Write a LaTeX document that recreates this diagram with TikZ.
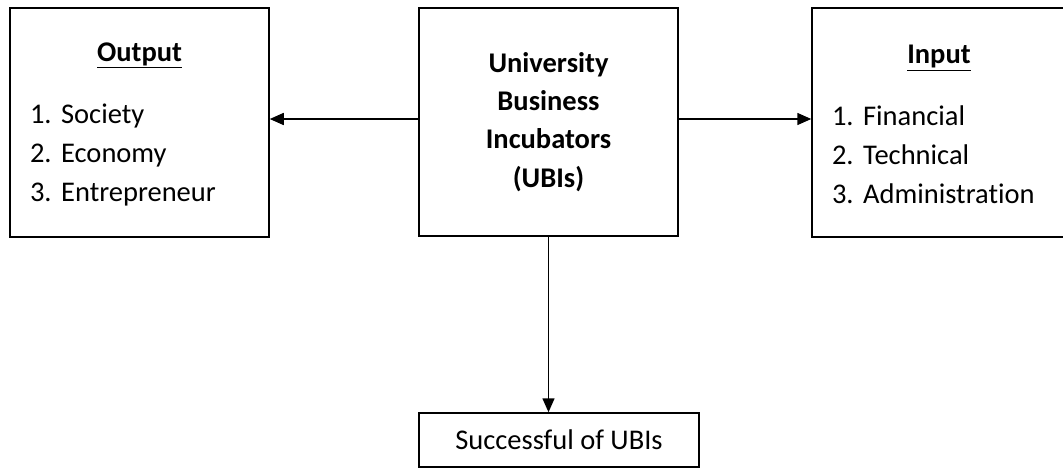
\documentclass[tikz,border=0pt]{standalone}
\usepackage{fontspec}
\setmainfont[Ligatures=NoCommon]{Carlito}
\usepackage{tikz}
\usetikzlibrary{arrows.meta}
\usetikzlibrary{positioning}
\frenchspacing

\begin{document}
\begin{tikzpicture}[->,>={Triangle[length=14pt,width=12pt]},x=1pt,y=-1pt,
  line width=1.5pt,font=\fontsize{28.5}{39}\selectfont,
  main node/.style={rectangle,fill=white,draw,inner xsep=20pt,inner ysep=0pt}]

  \useasboundingbox (0,0) rectangle (1063,469);

  \node[main node,minimum width=259pt,minimum height=229pt,text width=219pt,align=left] (1) at (139.5,122.5)
    {\makebox[\linewidth]{\rule{0pt}{23pt}\textbf{\underline{Output}}}\\[23pt]
     1. Society\\2. Economy\\3. Entrepreneur};
  \node[main node,minimum width=259pt,minimum height=228pt,align=center,font=\fontsize{28.5}{38.3}\selectfont\bfseries] (2) at (548.5,122)
    {University\\Business\\Incubators\\(UBIs)};
  \node[main node,minimum width=254pt,minimum height=229pt,text width=214pt,align=left] (3) at (939,122.5)
    {\makebox[\linewidth]{\rule{0pt}{23pt}\textbf{\underline{Input}}}\\[23pt]
     1. Financial\\2. Technical\\3. Administration};
  \node[main node,minimum width=280pt,minimum height=54pt,align=center] (4) at (559,440) {Successful of UBIs};

  % arrows
  \draw ([yshift=3pt]2.west) -- ([yshift=3pt]2.west -| 1.east);
  \draw ([yshift=3pt]2.east) -- ([yshift=3pt]2.east -| 3.west);
  \draw (2.south) -- (2.south |- 4.north);
\end{tikzpicture}
\end{document}
